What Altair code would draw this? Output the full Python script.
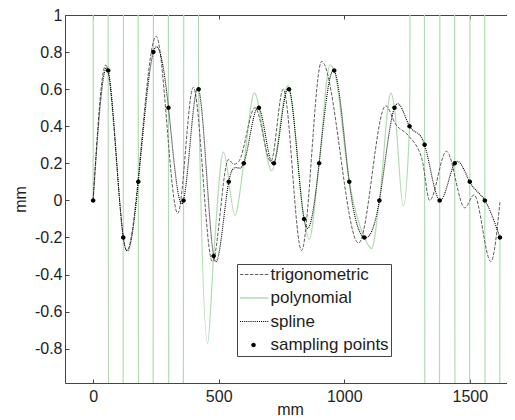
import altair as alt
import pandas as pd

# ---------------- data ----------------
sample_x = [0, 60, 120, 180, 240, 300, 360, 420, 480, 540, 600, 660, 720, 780,
            840, 900, 960, 1020, 1080, 1140, 1200, 1260, 1320, 1380, 1440, 1500, 1560, 1620]
sample_y = [0, 0.7, -0.2, 0.1, 0.8, 0.5, 0, 0.6, -0.3, 0.1, 0.2, 0.5, 0.2, 0.6,
            -0.1, 0.2, 0.7, 0.1, -0.2, 0, 0.5, 0.4, 0.3, 0, 0.2, 0.1, 0, -0.2]

trig_x = [0, 50, 134, 251, 337, 399, 475, 539, 560, 580, 645, 708, 757, 830, 910,
          1057, 1165, 1205, 1255, 1310, 1340, 1407, 1480, 1517, 1584, 1620]
trig_y = [0, 0.73, -0.27, 0.885, -0.07, 0.61, -0.33, 0.22, 0.195, 0.21, 0.50, 0.21, 0.60, -0.27, 0.75,
          -0.23, 0.51, 0.41, 0.35, 0.22, 0.0, 0.265, -0.04, 0.03, -0.33, -0.01]

# polynomial: far off the chart (+/-40) between the outer sampling points
poly_x = [0, 30, 60, 90, 120, 150, 180, 210, 240, 270, 300, 330, 360, 390,
          420, 456, 480, 519, 565, 600, 642, 711, 776, 840, 860, 900, 943, 960,
          1020, 1080, 1109, 1140, 1186, 1200, 1235, 1260,
          1290, 1320, 1350, 1380, 1410, 1440, 1470, 1500, 1530, 1560, 1590, 1620]
poly_y = [0, 40, 0.7, -40, -0.2, 40, 0.1, -40, 0.8, 40, 0.5, -40, 0, 40,
          0.6, -0.77, -0.3, 0.26, -0.08, 0.2, 0.58, 0.16, 0.62, -0.1, -0.21, 0.2, 0.73, 0.7,
          0.1, -0.2, -0.26, 0, 0.58, 0.5, -0.03, 0.4,
          40, 0.3, -40, 0, 40, 0.2, -40, 0.1, 40, 0, -40, -0.2]

series_names = ["trigonometric", "polynomial", "spline", "sampling points"]
x_ticks = [0, 500, 1000, 1500]
y_ticks = [-0.8, -0.6, -0.4, -0.2, 0, 0.2, 0.4, 0.6, 0.8, 1]

# ---------------- styles ----------------
FONT = "Liberation Sans"
TXT = "#1e1e1e"
AX = "#444444"
TRIG_C = "#5e5e5e"
POLY_C = "#b2dbb2"


def hbar(x0, x1, t):
    return f"M{x0:.3f},{-t:.3f}H{x1:.3f}V{t:.3f}H{x0:.3f}Z"


def dashed_path(x0, dash, gap, t):
    parts = []
    x = x0
    while x < 1.0 - 1e-9:
        parts.append(hbar(x, min(x + dash, 1.0), t))
        x += dash + gap
    return " ".join(parts)


r = 0.15
circle = f"M{r},0A{r},{r} 0 1,1 {-r},0A{r},{r} 0 1,1 {r},0Z"
shapes = [dashed_path(-0.9, 0.23, 0.1, 0.035), hbar(-0.9, 1, 0.045),
          dashed_path(-0.9, 0.07, 0.07, 0.04), circle]
colors = [TRIG_C, POLY_C, "#000000", "#000000"]

xs = alt.Scale(domain=[-112, 1680], nice=False, zero=False)
ys = alt.Scale(domain=[-0.985, 1], nice=False, zero=False)

common_axis = dict(offset=-4, tickSize=4, domain=False, grid=False, tickColor=AX,
                   tickWidth=1, labelFont=FONT, labelFontSize=16, labelColor=TXT,
                   titleFont=FONT, titleFontSize=16, titleFontWeight="normal",
                   titleColor=TXT, labelFlush=False, labelOverlap=False)

x_bottom = alt.Axis(orient="bottom", values=x_ticks, title="mm", labelPadding=5,
                    titleBaseline="alphabetic", titleY=35,
                    labelExpr="'' + datum.value", **common_axis)
y_left = alt.Axis(orient="left", values=y_ticks, title="mm", labelPadding=3,
                  titlePadding=6, labelExpr="'' + datum.value", **common_axis)
x_top = alt.Axis(orient="top", values=x_ticks, title=None, labels=False, **common_axis)
y_right = alt.Axis(orient="right", values=y_ticks, title=None, labels=False, **common_axis)

legend = alt.Legend(title=None, orient="none", legendX=172, legendY=249,
                    strokeColor=AX, fillColor="white", padding=1.5, symbolSize=900,
                    clipHeight=18, labelFont=FONT, labelFontSize=17, labelColor=TXT,
                    labelOffset=2, rowPadding=5.5, symbolOffset=0, symbolStrokeWidth=0,
                    cornerRadius=0, labelLimit=300)

poly = alt.Chart(pd.DataFrame({"x": poly_x, "y": poly_y})).mark_line(
    interpolate="monotone", clip=True, color=POLY_C, strokeWidth=1.2
).encode(x=alt.X("x:Q", scale=xs, axis=None), y=alt.Y("y:Q", scale=ys, axis=None))

trig = alt.Chart(pd.DataFrame({"x": trig_x, "y": trig_y})).mark_line(
    interpolate="monotone", clip=True, color=TRIG_C, strokeWidth=1, strokeDash=[3.5, 1.5]
).encode(x=alt.X("x:Q", scale=xs, axis=None), y=alt.Y("y:Q", scale=ys, axis=None))

spline = alt.Chart(pd.DataFrame({"x": sample_x, "y": sample_y})).mark_line(
    interpolate="natural", clip=True, color="black", strokeWidth=1.1, strokeDash=[1, 1]
).encode(x=alt.X("x:Q", scale=xs, axis=x_bottom), y=alt.Y("y:Q", scale=ys, axis=y_left))

pts_df = pd.DataFrame({"x": sample_x, "y": sample_y, "series": ["sampling points"] * len(sample_x)})
pts = alt.Chart(pts_df).mark_point(
    filled=True, opacity=1, size=900, strokeWidth=0, clip=True
).encode(
    x=alt.X("x:Q", scale=xs, axis=x_top),
    y=alt.Y("y:Q", scale=ys, axis=y_right),
    color=alt.Color("series:N", scale=alt.Scale(domain=series_names, range=colors), legend=legend),
    shape=alt.Shape("series:N", scale=alt.Scale(domain=series_names, range=shapes), legend=legend),
)

chart = alt.layer(poly, trig, spline, pts).resolve_axis(
    x="independent", y="independent"
).properties(
    width=450, height=368,
    autosize=alt.AutoSizeParams(type="none"),
    padding={"left": 57, "top": 7, "right": -8, "bottom": 35},
).configure_view(stroke=AX, strokeWidth=1)

chart.save("out.html", embed_options={"renderer": "svg", "actions": False})
